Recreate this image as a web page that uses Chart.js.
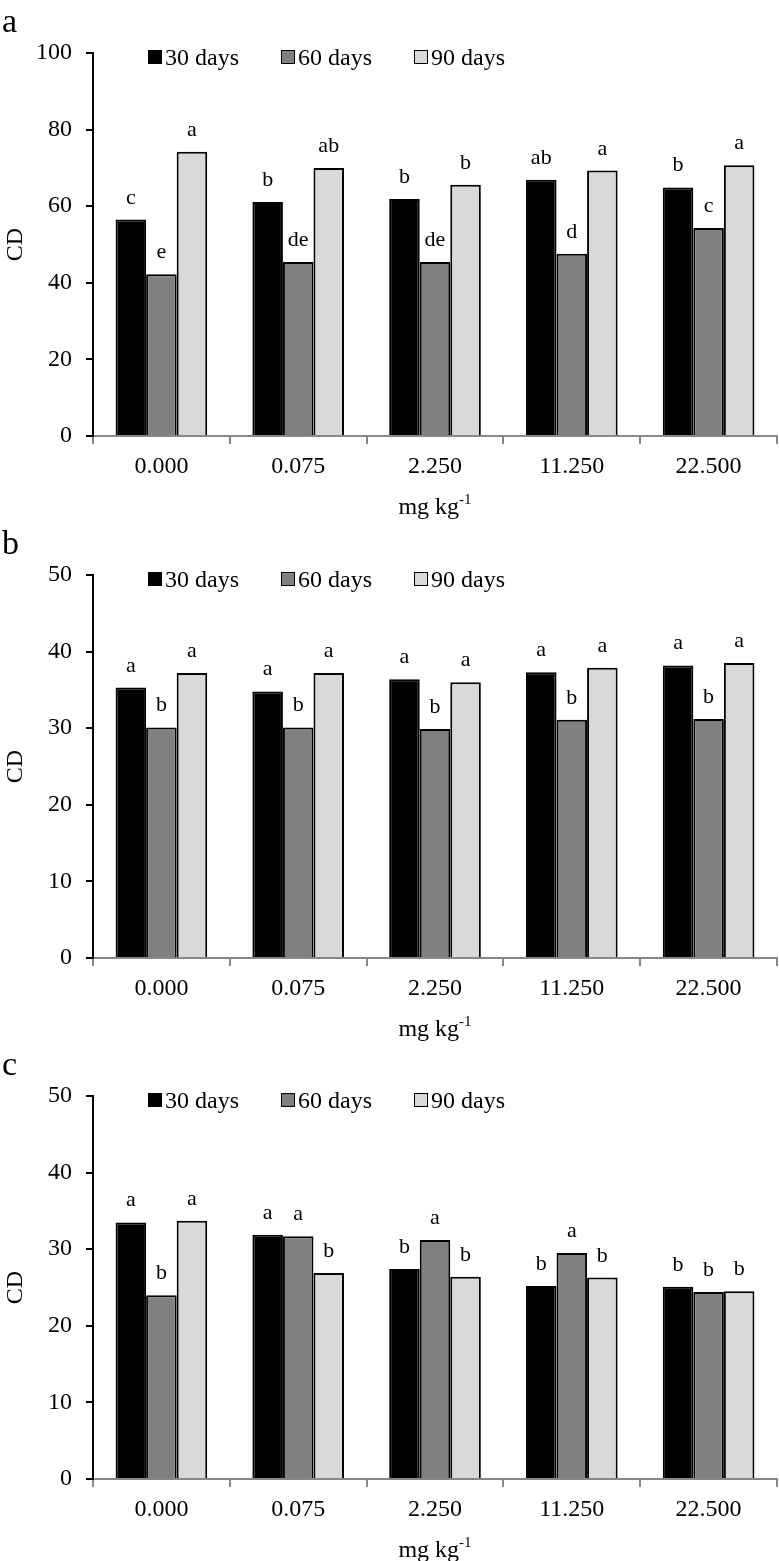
<!DOCTYPE html>
<html>
<head>
<meta charset="utf-8">
<script src="https://cdn.jsdelivr.net/npm/chart.js@4.4.1/dist/chart.umd.min.js"></script>
<style>
  html, body { margin: 0; padding: 0; background: #fff; }
  body { width: 779px; height: 1561px; position: relative; overflow: hidden; font-family: "Liberation Serif", "Times New Roman", serif; color: #000; }
  .panel { position: absolute; left: 0; width: 779px; height: 528px; }
  .panel canvas { position: absolute; left: 0; top: 0; }
  .tag { position: absolute; left: 2px; top: 4px; font-size: 34px; line-height: 34px; }
  .legend { position: absolute; left: 148px; top: 43px; display: flex; font-size: 24px; line-height: 28px; }
  .legend .item { display: flex; align-items: center; margin-right: 42px; }
  .legend i { display: inline-block; width: 12px; height: 12px; border: 1px solid #000; margin-right: 3px; }
</style>
</head>
<body>
<div class="panel" style="top:0px"><canvas id="chartA" width="779" height="528"></canvas><div class="tag">a</div><div class="legend" id="legA"></div></div>
<div class="panel" style="top:522px"><canvas id="chartB" width="779" height="528"></canvas><div class="tag">b</div><div class="legend" id="legB"></div></div>
<div class="panel" style="top:1043px"><canvas id="chartC" width="779" height="528"></canvas><div class="tag">c</div><div class="legend" id="legC"></div></div>
<script>
// doses (mg kg-1) and sampling times
const doses = ["0.000", "0.075", "2.250", "11.250", "22.500"];
const seriesNames = ["30 days", "60 days", "90 days"];
const seriesColors = ["#000000", "#808080", "#d9d9d9"];

// panel a
const cdA30 = [56.5, 61.1, 61.9, 66.9, 64.9];
const cdA60 = [42.2, 45.4, 45.4, 47.6, 54.3];
const cdA90 = [74.2, 70.0, 65.6, 69.3, 70.7];
const letA30 = ["c", "b", "b", "ab", "b"];
const letA60 = ["e", "de", "de", "d", "c"];
const letA90 = ["a", "ab", "b", "a", "a"];

// panel b
const cdB30 = [35.3, 34.8, 36.4, 37.3, 38.2];
const cdB60 = [30.1, 30.1, 29.9, 31.1, 31.2];
const cdB90 = [37.2, 37.2, 36.0, 37.9, 38.5];
const letB30 = ["a", "a", "a", "a", "a"];
const letB60 = ["b", "b", "b", "b", "b"];
const letB90 = ["a", "a", "a", "a", "a"];

// panel c
const cdC30 = [33.5, 31.9, 27.4, 25.2, 25.1];
const cdC60 = [24.0, 31.7, 31.2, 29.5, 24.4];
const cdC90 = [33.7, 26.9, 26.4, 26.3, 24.5];
const letC30 = ["a", "a", "b", "b", "b"];
const letC60 = ["b", "a", "a", "a", "b"];
const letC90 = ["a", "b", "b", "b", "b"];

const FONT = "'Liberation Serif', 'Times New Roman', serif";

function letterPlugin(letters) {
  return {
    id: "letters",
    afterDatasetsDraw(chart) {
      const ctx = chart.ctx;
      ctx.save();
      ctx.fillStyle = "#000";
      ctx.textAlign = "center";
      ctx.textBaseline = "alphabetic";
      ctx.font = "22px " + FONT;
      chart.data.datasets.forEach((ds, i) => {
        chart.getDatasetMeta(i).data.forEach((bar, j) => {
          ctx.fillText(letters[i][j], bar.x, bar.y - 16);
        });
      });

      // axis titles
      const a = chart.chartArea;
      const cx = (a.left + a.right) / 2;
      ctx.font = "24px " + FONT;
      const main = "mg kg";
      const w1 = ctx.measureText(main).width;
      ctx.font = "15px " + FONT;
      const w2 = ctx.measureText("-1").width;
      const x0 = cx - (w1 + w2) / 2;
      ctx.textAlign = "left";
      ctx.font = "24px " + FONT;
      ctx.fillText(main, x0, a.bottom + 78);
      ctx.font = "15px " + FONT;
      ctx.fillText("-1", x0 + w1, a.bottom + 68);

      ctx.translate(16, (a.top + a.bottom) / 2);
      ctx.rotate(-Math.PI / 2);
      ctx.textAlign = "center";
      ctx.textBaseline = "middle";
      ctx.font = "24px " + FONT;
      ctx.fillText("CD", 0, 0);
      ctx.restore();
    }
  };
}

function buildLegend(id) {
  document.getElementById(id).innerHTML = seriesNames.map((n, i) =>
    `<span class="item"><i style="background:${seriesColors[i]}"></i>${n}</span>`).join("");
}

function buildChart(id, values, letters, yMax, yStep) {
  new Chart(document.getElementById(id), {
    type: "bar",
    data: {
      labels: doses,
      datasets: values.map((v, i) => ({
        label: seriesNames[i],
        data: v,
        backgroundColor: seriesColors[i],
        borderColor: "#000",
        borderWidth: 2,
        borderSkipped: "bottom",
        categoryPercentage: 0.67,
        barPercentage: 1.0
      }))
    },
    options: {
      responsive: false,
      animation: false,
      layout: { padding: { top: 53, right: 2, left: 0, bottom: 0 } },
      plugins: { legend: { display: false }, tooltip: { enabled: false } },
      scales: {
        x: {
          offset: true,
          grid: { offset: true, drawOnChartArea: false, tickLength: 8, color: "#888", lineWidth: 2 },
          border: { color: "#888", width: 2 },
          ticks: { color: "#000", font: { family: FONT, size: 24 }, padding: 8, maxRotation: 0 },
          afterFit: s => { s.height = 92; }
        },
        y: {
          min: 0, max: yMax,
          grid: { drawOnChartArea: false, tickLength: 7, color: "#000", lineWidth: 2 },
          border: { color: "#000", width: 2 },
          ticks: { stepSize: yStep, color: "#000", font: { family: FONT, size: 24 }, padding: 14 },
          afterFit: s => { s.width = 93; }
        }
      }
    },
    plugins: [letterPlugin(letters)]
  });
}

buildLegend("legA");
buildLegend("legB");
buildLegend("legC");
buildChart("chartA", [cdA30, cdA60, cdA90], [letA30, letA60, letA90], 100, 20);
buildChart("chartB", [cdB30, cdB60, cdB90], [letB30, letB60, letB90], 50, 10);
buildChart("chartC", [cdC30, cdC60, cdC90], [letC30, letC60, letC90], 50, 10);
</script>
</body>
</html>
